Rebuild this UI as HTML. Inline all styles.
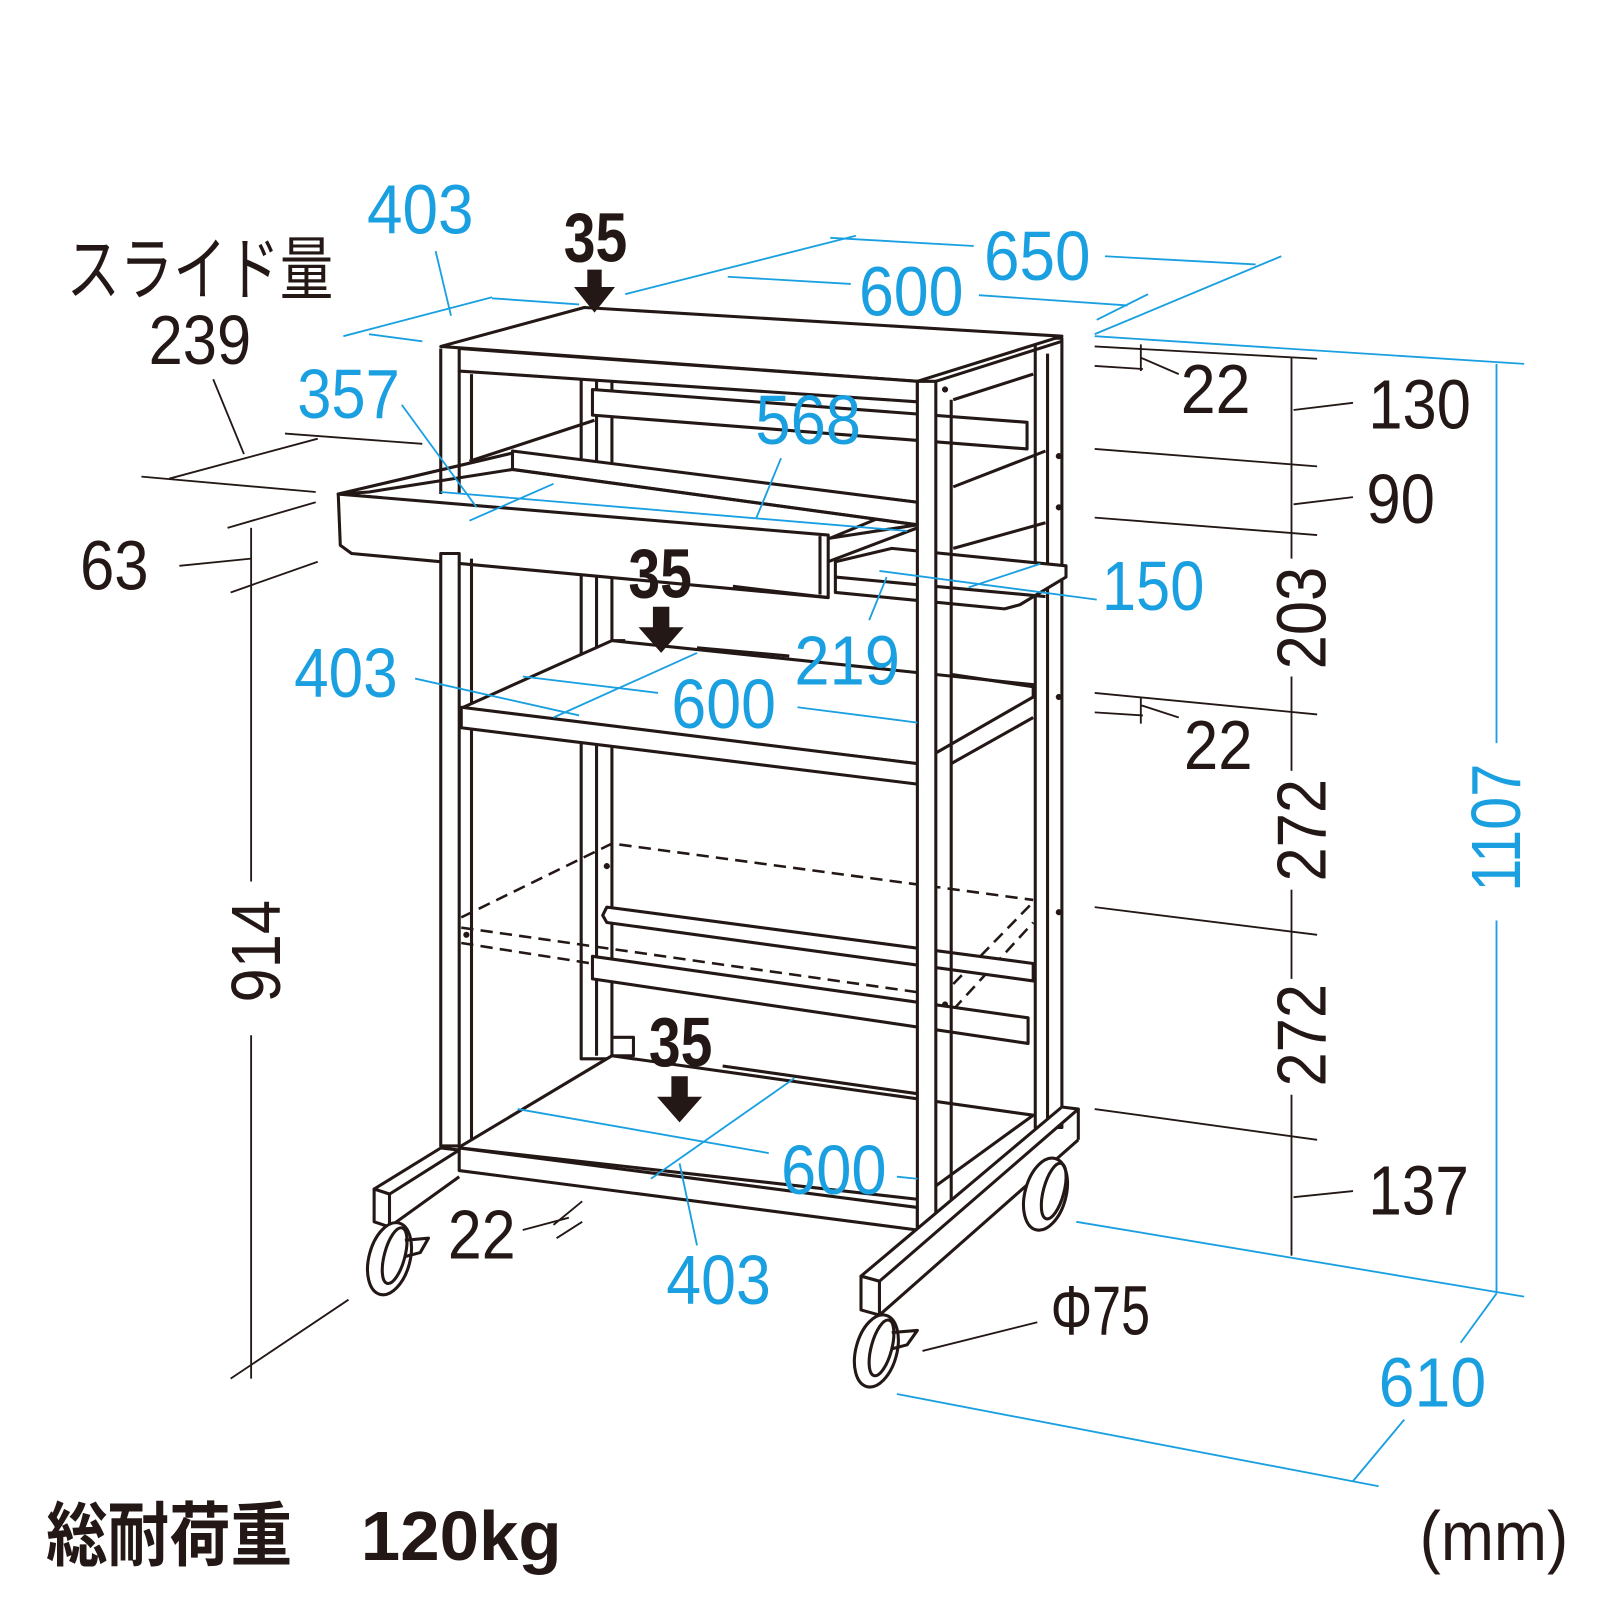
<!DOCTYPE html>
<html><head><meta charset="utf-8"><style>
html,body{margin:0;padding:0;background:#fff}
svg{display:block}
.k{stroke:#231815;stroke-width:3;fill:none;stroke-linejoin:round}
.kf{stroke:#231815;stroke-width:3;fill:#fff;stroke-linejoin:round}
.t{stroke:#231815;stroke-width:1.8;fill:none}
.b{stroke:#1aa0e0;stroke-width:1.8;fill:none}
.d{stroke:#231815;stroke-width:2.5;fill:none;stroke-dasharray:12 7}
text{font-family:"Liberation Sans","Noto Sans CJK JP",sans-serif;font-size:68px}
.n{fill:#231815}
.bl{fill:#1aa0e0}
.bd{fill:#231815;font-weight:bold}
</style></head><body>
<svg width="1600" height="1600" viewBox="0 0 1600 1600">
<g transform="scale(1.025)">
<!-- back posts -->
<rect class="kf" x="567" y="368" width="30" height="665"/>
<line class="k" x1="582" y1="368" x2="582" y2="1030"/>
<rect class="kf" x="1010" y="330" width="26" height="770"/>
<line class="k" x1="1022" y1="345" x2="1022" y2="1095"/>
<!-- top panel -->
<polygon class="kf" points="430,338 570,300 1036,328 895,372"/>
<polygon class="kf" points="448,340 895,372 895,392 448,362"/>
<line class="k" x1="913" y1="372" x2="1036" y2="333"/>
<line class="k" x1="930" y1="390" x2="1008" y2="365"/>
<!-- upper back bar -->
<polygon class="kf" points="578,380 1002,412 1002,438 578,405"/>
<line class="k" x1="930" y1="475" x2="1020" y2="440"/>
<line class="k" x1="930" y1="535" x2="1020" y2="510"/>
<line class="k" x1="458" y1="450" x2="580" y2="410"/>
<!-- drawer -->
<polygon class="kf" points="330,482 500,442 895,490 810,525"/>
<polygon class="kf" points="500,440 500,458 895,512 895,490"/>
<polygon class="k" points="360,480 500,458 895,512 810,525 330,482"/>
<polygon class="kf" points="330,482 808,522 808,583 343,540 332,532"/>
<line class="k" x1="800" y1="523" x2="800" y2="580"/>
<line class="k" x1="808" y1="548" x2="895" y2="515"/>
<!-- keyboard shelf -->
<polygon class="kf" points="815,548 870,535 1040,552 1040,563 995,590 980,594 815,578"/>
<line class="k" x1="815" y1="563" x2="1020" y2="582"/>
<!-- front-left post -->
<rect class="kf" x="430" y="540" width="18" height="578"/>
<line class="k" x1="430" y1="340" x2="430" y2="482"/>
<line class="k" x1="448" y1="362" x2="448" y2="482"/>
<line class="k" x1="460" y1="365" x2="460" y2="448"/>
<line class="k" x1="460" y1="545" x2="460" y2="1112"/>
<!-- middle shelf -->
<polygon class="kf" points="452,690 597,625 1008,668 1008,680 895,745 452,692"/>
<polygon class="kf" points="450,690 895,745 895,765 450,710"/>
<line class="k" x1="928" y1="745" x2="1008" y2="700"/>
<line class="k" x1="928" y1="658" x2="1008" y2="670"/>
<!-- dashed shelf -->
<polyline class="d" points="450,895 597,823 1008,878"/>
<polyline class="d" points="450,905 895,968"/>
<polyline class="d" points="450,920 895,990"/>
<polyline class="d" points="930,985 1008,900"/>
<polyline class="d" points="930,960 1008,880"/>
<!-- bars -->
<polygon class="kf" points="592,885 1008,940 1008,957 592,900 588,893"/>
<polygon class="kf" points="578,933 1003,993 1003,1018 578,955"/>
<!-- bottom shelf -->
<polygon class="kf" points="450,1118 597,1030 1008,1088 895,1170 450,1120"/>
<polygon class="kf" points="448,1120 895,1178 895,1200 448,1142"/>
<polyline class="k" points="597,1012 618,1012 618,1030 597,1030"/>
<!-- front-right post -->
<rect class="kf" x="895" y="372" width="18" height="828"/>
<line class="k" x1="928" y1="390" x2="928" y2="1178"/>
<circle cx="922" cy="380" r="3" fill="#231815"/><circle cx="1033" cy="445" r="3" fill="#231815"/><circle cx="1033" cy="495" r="3" fill="#231815"/><circle cx="1033" cy="680" r="3" fill="#231815"/><circle cx="1033" cy="890" r="3" fill="#231815"/><circle cx="922" cy="980" r="3" fill="#231815"/><circle cx="592" cy="845" r="3" fill="#231815"/><circle cx="455" cy="912" r="3" fill="#231815"/>
<!-- base bars -->
<polygon class="kf" points="365,1160 430,1120 448,1122 380,1165"/>
<polygon class="kf" points="365,1160 380,1165 380,1197 365,1192"/>
<line class="k" x1="380" y1="1197" x2="448" y2="1148"/>
<polygon class="kf" points="840,1245 1036,1080 1052,1082 858,1250"/>
<polygon class="kf" points="840,1245 858,1250 858,1283 840,1278"/>
<line class="k" x1="858" y1="1283" x2="1052" y2="1112"/>
<line class="k" x1="1052" y1="1082" x2="1052" y2="1112"/>
<!-- casters -->
<ellipse class="kf" cx="380" cy="1228" rx="20" ry="36" transform="rotate(15 380 1228)"/>
<ellipse class="k" cx="385" cy="1225" rx="10" ry="28" transform="rotate(15 385 1225)"/>
<path class="k" d="M395 1210 L418 1208 L410 1222 L395 1226"/>
<ellipse class="kf" cx="855" cy="1318" rx="20" ry="36" transform="rotate(15 855 1318)"/>
<ellipse class="k" cx="860" cy="1315" rx="10" ry="28" transform="rotate(15 860 1315)"/>
<path class="k" d="M870 1300 L895 1298 L885 1312 L870 1316"/>
<ellipse class="kf" cx="1020" cy="1165" rx="20" ry="36" transform="rotate(15 1020 1165)"/>
<ellipse class="k" cx="1028" cy="1162" rx="10" ry="28" transform="rotate(15 1028 1162)"/>

<!-- blue dimension lines -->
<polyline class="b" points="335,328 480,290"/>
<line class="b" x1="360" y1="326" x2="412" y2="333"/>
<line class="b" x1="425" y1="245" x2="440" y2="308"/>
<line class="b" x1="480" y1="291" x2="565" y2="297"/>
<line class="b" x1="610" y1="287" x2="835" y2="230"/>
<line class="b" x1="810" y1="232" x2="950" y2="240"/>
<line class="b" x1="1078" y1="250" x2="1225" y2="258"/>
<line class="b" x1="1068" y1="326" x2="1250" y2="250"/>
<line class="b" x1="710" y1="270" x2="830" y2="277"/>
<line class="b" x1="955" y1="288" x2="1100" y2="298"/>
<line class="b" x1="1070" y1="312" x2="1120" y2="287"/>
<line class="b" x1="1068" y1="328" x2="1487" y2="355"/>
<line class="b" x1="1460" y1="355" x2="1460" y2="725"/>
<line class="b" x1="1460" y1="898" x2="1460" y2="1262"/>
<line class="b" x1="1050" y1="1192" x2="1487" y2="1265"/>
<line class="b" x1="1425" y1="1310" x2="1460" y2="1262"/>
<line class="b" x1="875" y1="1360" x2="1345" y2="1450"/>
<line class="b" x1="1320" y1="1445" x2="1370" y2="1385"/>
<line class="b" x1="392" y1="395" x2="465" y2="495"/>
<line class="b" x1="430" y1="480" x2="885" y2="518"/>
<line class="b" x1="458" y1="508" x2="540" y2="472"/>
<line class="b" x1="762" y1="447" x2="738" y2="505"/>
<line class="b" x1="858" y1="557" x2="1070" y2="585"/>
<line class="b" x1="945" y1="573" x2="1015" y2="550"/>
<line class="b" x1="865" y1="563" x2="848" y2="605"/>
<line class="b" x1="405" y1="662" x2="565" y2="698"/>
<line class="b" x1="510" y1="660" x2="642" y2="676"/>
<line class="b" x1="540" y1="700" x2="680" y2="637"/>
<line class="b" x1="778" y1="690" x2="895" y2="705"/>
<line class="b" x1="505" y1="1082" x2="750" y2="1125"/>
<line class="b" x1="635" y1="1150" x2="775" y2="1052"/>
<line class="b" x1="663" y1="1135" x2="680" y2="1215"/>
<line class="b" x1="875" y1="1148" x2="895" y2="1150"/>

<!-- black dimension lines -->
<line class="t" x1="278" y1="423" x2="412" y2="433"/>
<line class="t" x1="138" y1="465" x2="308" y2="480"/>
<line class="t" x1="165" y1="467" x2="310" y2="428"/>
<line class="t" x1="208" y1="370" x2="238" y2="443"/>
<line class="t" x1="222" y1="515" x2="308" y2="490"/>
<line class="t" x1="225" y1="578" x2="310" y2="548"/>
<line class="t" x1="175" y1="552" x2="245" y2="545"/>
<line class="t" x1="245" y1="515" x2="245" y2="860"/>
<line class="t" x1="245" y1="1010" x2="245" y2="1345"/>
<line class="t" x1="225" y1="1345" x2="340" y2="1268"/>
<line class="t" x1="1068" y1="338" x2="1285" y2="350"/>
<line class="t" x1="1068" y1="357" x2="1115" y2="360"/>
<line class="t" x1="1113" y1="336" x2="1113" y2="362"/>
<line class="t" x1="1113" y1="349" x2="1150" y2="365"/>
<line class="t" x1="1068" y1="438" x2="1285" y2="455"/>
<line class="t" x1="1068" y1="505" x2="1285" y2="522"/>
<line class="t" x1="1068" y1="676" x2="1285" y2="697"/>
<line class="t" x1="1068" y1="695" x2="1115" y2="698"/>
<line class="t" x1="1113" y1="680" x2="1113" y2="706"/>
<line class="t" x1="1113" y1="688" x2="1150" y2="700"/>
<line class="t" x1="1068" y1="885" x2="1285" y2="912"/>
<line class="t" x1="1068" y1="1082" x2="1285" y2="1112"/>
<line class="t" x1="1260" y1="348" x2="1260" y2="545"/>
<line class="t" x1="1260" y1="660" x2="1260" y2="752"/>
<line class="t" x1="1260" y1="868" x2="1260" y2="955"/>
<line class="t" x1="1260" y1="1068" x2="1260" y2="1225"/>
<line class="t" x1="1262" y1="400" x2="1320" y2="393"/>
<line class="t" x1="1262" y1="492" x2="1320" y2="485"/>
<line class="t" x1="1262" y1="1168" x2="1320" y2="1162"/>
<line class="t" x1="510" y1="1200" x2="555" y2="1188"/>
<line class="t" x1="540" y1="1195" x2="568" y2="1172"/>
<line class="t" x1="543" y1="1208" x2="568" y2="1192"/>
<line class="t" x1="900" y1="1318" x2="1012" y2="1290"/>
<line class="k" x1="715" y1="572" x2="808" y2="583"/>
<line class="k" x1="598" y1="625" x2="610" y2="625"/>
<line class="k" x1="680" y1="632" x2="770" y2="640"/>
<line class="k" x1="705" y1="1040" x2="895" y2="1067"/>
<polygon fill="#231815" points="573,263 587,263 587,280 600,280 580,305 560,280 573,280"/>
<polygon fill="#231815" points="637,592 653,592 653,612 667,612 645,637 623,612 637,612"/>
<polygon fill="#231815" points="655,1050 671,1050 671,1070 685,1070 663,1095 641,1070 655,1070"/>

<!-- text -->
<text class="bl" x="358" y="228" textLength="104" lengthAdjust="spacingAndGlyphs">403</text>
<text class="bd" x="550" y="255" font-size="58" textLength="62" lengthAdjust="spacingAndGlyphs">35</text>
<text class="bl" x="960" y="273" textLength="104" lengthAdjust="spacingAndGlyphs">650</text>
<text class="bl" x="838" y="308" textLength="102" lengthAdjust="spacingAndGlyphs">600</text>
<text class="n" x="65" y="287" font-size="60" textLength="260" lengthAdjust="spacingAndGlyphs">スライド量</text>
<text class="n" x="145" y="355" textLength="100" lengthAdjust="spacingAndGlyphs">239</text>
<text class="bl" x="290" y="408" textLength="100" lengthAdjust="spacingAndGlyphs">357</text>
<text class="bl" x="737" y="433" textLength="103" lengthAdjust="spacingAndGlyphs">568</text>
<text class="n" x="78" y="575" textLength="67" lengthAdjust="spacingAndGlyphs">63</text>
<text class="n" x="1152" y="403" textLength="68" lengthAdjust="spacingAndGlyphs">22</text>
<text class="n" x="1335" y="418" textLength="100" lengthAdjust="spacingAndGlyphs">130</text>
<text class="n" x="1333" y="510" textLength="67" lengthAdjust="spacingAndGlyphs">90</text>
<text class="bl" x="1075" y="595" textLength="100" lengthAdjust="spacingAndGlyphs">150</text>
<text class="bd" x="613" y="583" font-size="58" textLength="62" lengthAdjust="spacingAndGlyphs">35</text>
<text class="bl" x="775" y="668" textLength="103" lengthAdjust="spacingAndGlyphs">219</text>
<text class="bl" x="287" y="680" textLength="101" lengthAdjust="spacingAndGlyphs">403</text>
<text class="bl" x="655" y="710" textLength="102" lengthAdjust="spacingAndGlyphs">600</text>
<text class="n" x="1155" y="750" textLength="67" lengthAdjust="spacingAndGlyphs">22</text>
<text class="bd" x="633" y="1040" font-size="58" textLength="62" lengthAdjust="spacingAndGlyphs">35</text>
<text class="bl" x="762" y="1165" textLength="103" lengthAdjust="spacingAndGlyphs">600</text>
<text class="n" x="1335" y="1185" textLength="98" lengthAdjust="spacingAndGlyphs">137</text>
<text class="n" x="437" y="1228" textLength="66" lengthAdjust="spacingAndGlyphs">22</text>
<text class="bl" x="650" y="1272" textLength="102" lengthAdjust="spacingAndGlyphs">403</text>
<text class="n" x="1025" y="1302" font-size="56" textLength="97" lengthAdjust="spacingAndGlyphs">Φ75</text>
<text class="bl" x="1345" y="1372" textLength="105" lengthAdjust="spacingAndGlyphs">610</text>
<text class="n" transform="translate(1293,653) rotate(-90)" textLength="100" lengthAdjust="spacingAndGlyphs">203</text>
<text class="n" transform="translate(1293,860) rotate(-90)" textLength="100" lengthAdjust="spacingAndGlyphs">272</text>
<text class="n" transform="translate(1293,1060) rotate(-90)" textLength="100" lengthAdjust="spacingAndGlyphs">272</text>
<text class="bl" transform="translate(1483,870) rotate(-90)" textLength="125" lengthAdjust="spacingAndGlyphs">1107</text>
<text class="n" transform="translate(273,978) rotate(-90)" textLength="100" lengthAdjust="spacingAndGlyphs">914</text>
<text class="bd" x="45" y="1522" font-size="56" textLength="240" lengthAdjust="spacingAndGlyphs">総耐荷重</text>
<text class="bd" x="352" y="1522" font-size="60" textLength="196" lengthAdjust="spacingAndGlyphs">120kg</text>
<text class="n" x="1385" y="1522" font-size="56" textLength="145" lengthAdjust="spacingAndGlyphs">(mm)</text>
</g>
</svg>
</body></html>
